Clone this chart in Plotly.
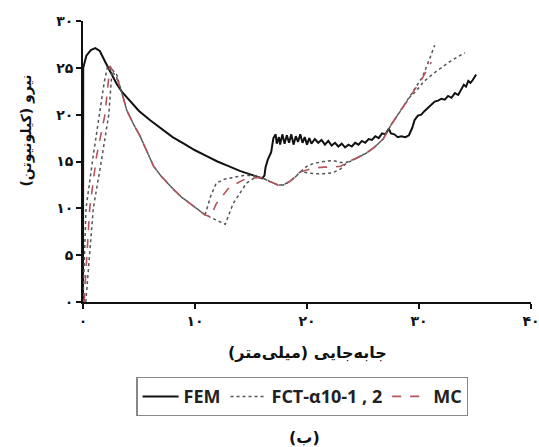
import plotly.graph_objects as go

# ---------------- data ----------------
fem_x = [0, 0.02, 0.3, 0.7, 1.1, 1.5, 2.0, 2.5, 3.0, 3.5, 4.0, 5.0, 6.0, 7.0, 8.0, 9.0, 10.0,
         11.0, 12.0, 13.0, 14.0, 15.0, 16.0, 16.2, 16.3, 16.5, 16.8, 17.0, 17.2,
         17.3, 17.5, 17.6, 17.8, 18.0, 18.2, 18.4, 18.6, 18.8, 19.0, 19.2, 19.4, 19.6, 19.8,
         20.0, 20.2, 20.4, 20.7, 21.0, 21.3, 21.6, 21.9, 22.2, 22.5, 22.8, 23.1, 23.4, 23.7,
         24.0, 24.3, 24.6, 24.9, 25.2, 25.5, 25.8, 26.1, 26.4, 26.7, 27.0, 27.3, 27.5, 27.8,
         28.1, 28.4, 28.8, 29.1, 29.4, 29.6, 29.9, 30.2, 30.5, 30.8, 31.1, 31.4, 31.7, 32.0,
         32.3, 32.6, 32.9, 33.2, 33.5, 33.8, 34.0, 34.2, 34.4, 34.6, 34.8, 35.1]
fem_y = [0, 25.0, 26.3, 26.9, 27.1, 26.8, 25.6, 24.4, 23.3, 22.4, 21.7, 20.4, 19.4, 18.5, 17.6, 16.9, 16.2,
         15.6, 15.0, 14.5, 14.0, 13.6, 13.2, 13.5, 14.4, 15.2, 16.0, 17.5, 17.9,
         16.9, 17.6, 16.8, 17.9, 16.9, 17.8, 17.0, 17.9, 16.8, 17.7, 17.1, 17.9, 17.0, 17.6,
         16.8, 17.5, 16.9, 17.4, 17.0, 17.3, 16.8, 17.2, 16.7, 17.0, 16.6, 16.9, 16.5, 16.8,
         16.6, 17.0, 16.8, 17.2, 17.0, 17.4, 17.3, 17.7, 17.5, 18.0, 17.9, 18.5, 18.0, 17.9,
         17.6, 17.7, 17.6, 17.8, 18.6, 19.4, 19.9, 20.0, 20.4, 20.7, 21.0, 21.4, 21.5, 21.7,
         21.6, 22.0, 21.8, 22.3, 22.1, 22.8, 23.2, 23.0, 23.6, 23.4, 23.7, 24.3]

fct1_x = [0, 0.27, 0.9, 1.5, 1.9, 2.2, 3.0, 3.5, 3.9, 4.5, 5.1, 5.7, 6.3, 7.0, 7.6, 8.1, 8.8, 9.6,
          10.3, 10.9, 11.4, 11.9, 12.6, 13.4, 14.3, 15.2, 16.1, 16.8, 17.4, 17.9, 18.5, 19.0, 19.4,
          20.0, 20.6, 21.5, 22.3, 23.0, 23.5, 24.5, 25.3, 26.0, 26.8, 27.5, 28.0, 28.6, 29.2, 29.8,
          30.3, 30.8, 31.1, 31.4]
fct1_y = [0, 10.0, 15.5, 20.0, 23.5, 25.2, 24.0, 22.2, 20.5, 19.0, 17.7, 16.1, 14.5, 13.4, 12.6, 12.0, 11.2, 10.5,
          9.9, 9.3, 11.3, 12.7, 13.1, 13.3, 13.5, 13.5, 13.2, 12.8, 12.5, 12.5, 12.9, 13.4, 13.9,
          14.5, 14.8, 15.0, 15.1, 14.9, 14.9, 15.4, 15.9, 16.5, 17.4, 18.9, 19.8, 20.9, 21.9, 23.0,
          24.0, 25.5, 26.5, 27.4]

fct2_x = [0.25, 0.92, 1.7, 2.3, 2.6, 3.0, 3.5, 3.9, 4.5, 5.1, 5.7, 6.3, 7.0, 7.6, 8.1, 8.8, 9.6,
          10.3, 10.9, 11.8, 12.7, 13.4, 14.6, 15.5, 16.1, 16.8, 17.4, 17.9, 18.5, 19.0, 19.4,
          20.0, 20.6, 21.5, 22.3, 23.0, 23.5, 24.5, 25.3, 26.0, 26.8, 27.5, 28.0, 28.6, 29.2, 29.8,
          30.4, 31.3, 32.0, 32.8, 33.5, 34.1]
fct2_y = [0, 10.0, 15.5, 20.0, 24.8, 24.3, 22.2, 20.5, 19.0, 17.7, 16.1, 14.5, 13.4, 12.6, 12.0, 11.2, 10.5,
          9.9, 9.3, 8.8, 8.3, 10.5, 12.7, 13.4, 13.2, 12.8, 12.5, 12.5, 12.9, 13.4, 13.9,
          13.8, 13.7, 13.7, 13.8, 14.2, 14.8, 15.4, 15.9, 16.5, 17.4, 18.9, 19.8, 20.9, 21.9, 22.6,
          23.5, 24.4, 25.0, 25.7, 26.2, 26.6]

mc_x = [0.1, 0.6, 1.2, 1.96, 2.4, 3.0, 3.5, 3.9, 4.5, 5.1, 5.7, 6.3, 7.0, 7.6, 8.1, 8.8, 9.6,
        10.3, 10.9, 11.4, 11.9, 13.1, 14.6, 16.1, 16.8, 17.4, 17.9, 18.5, 19.0, 19.4,
        20.0, 20.6, 21.5, 22.3, 23.0, 23.5, 24.5, 25.3, 26.0, 26.8, 27.5, 28.0, 28.6, 29.2, 29.8,
        30.3, 30.8, 31.1]
mc_y = [0, 10.0, 15.5, 20.0, 25.2, 24.0, 22.2, 20.5, 19.0, 17.7, 16.1, 14.5, 13.4, 12.6, 12.0, 11.2, 10.5,
        9.9, 9.3, 9.1, 10.5, 12.3, 13.2, 13.3, 12.8, 12.5, 12.5, 12.9, 13.4, 13.9,
        14.1, 14.3, 14.4, 14.4, 14.5, 14.8, 15.4, 15.9, 16.5, 17.4, 18.9, 19.8, 20.9, 21.9, 23.0,
        23.9, 25.0, 25.6]

x_tickvals = [0, 10, 20, 30, 40]
x_ticktext = ["۰", "۱۰", "۲۰", "۳۰", "۴۰"]
y_tickvals = [0, 5, 10, 15, 20, 25, 30]
y_ticktext = ["۰", "۵", "۱۰", "۱۵", "۲۰", "۲۵", "۳۰"]

x_title = "جابه‌جایی (میلی‌متر)"
y_title = "نیرو (کیلونیوتن)"
caption = "(ب)"

# ---------------- figure ----------------
fa = "DejaVu Sans"
fig = go.Figure()
fig.add_trace(go.Scatter(x=fem_x, y=fem_y, mode="lines", name="FEM",
                         line=dict(color="#111111", width=2)))
fig.add_trace(go.Scatter(x=fct1_x, y=fct1_y, mode="lines", name="FCT-α10-1 , 2",
                         line=dict(color="#555555", width=1.5, dash="dot")))
fig.add_trace(go.Scatter(x=fct2_x, y=fct2_y, mode="lines", name="FCT-α10-2",
                         showlegend=False,
                         line=dict(color="#555555", width=1.5, dash="dot")))
fig.add_trace(go.Scatter(x=mc_x, y=mc_y, mode="lines", name="MC",
                         line=dict(color="#b5545c", width=1.6, dash="dash")))

axis_common = dict(showline=True, linecolor="#111111", linewidth=1.6, ticks="outside",
                   ticklen=5, tickwidth=1.5, tickcolor="#111111", showgrid=False,
                   zeroline=False, automargin=False, ticklabeloverflow="allow",
                   tickfont=dict(family=fa, size=14, color="#111111", weight="bold"))
fig.update_xaxes(range=[0, 40], tickvals=x_tickvals, ticktext=x_ticktext, **axis_common)
fig.update_yaxes(range=[0, 30], tickvals=y_tickvals, ticktext=y_ticktext, **axis_common)

fig.add_annotation(text=x_title, x=0.5, y=0, xref="paper", yref="paper",
                   yanchor="middle", yshift=-50, showarrow=False,
                   font=dict(family=fa, size=16, color="#111111", weight="bold"))
fig.add_annotation(text=y_title, x=0, y=0.61, xref="paper", yref="paper",
                   xanchor="center", xshift=-56, showarrow=False, textangle=-90,
                   font=dict(family=fa, size=14, color="#111111", weight="bold"))
fig.add_annotation(text=caption, x=0.495, y=0, xref="paper", yref="paper",
                   yanchor="middle", yshift=-135, showarrow=False,
                   font=dict(family=fa, size=16, color="#111111", weight="bold"))

fig.update_layout(
    width=539, height=447,
    margin=dict(l=83, r=8, t=21, b=145, autoexpand=False),
    plot_bgcolor="white", paper_bgcolor="white",
    legend=dict(orientation="h", x=0.561, xref="container", xanchor="center",
                y=1 - 377 / 447, yref="container", yanchor="top",
                bordercolor="#888888", borderwidth=1.2,
                font=dict(family="Open Sans", size=18, color="#222222", weight="bold"),
                itemwidth=36, tracegroupgap=0),
)

fig.write_html("out.html", config={"displayModeBar": False},
               post_script="document.body.style.margin='0px';")
